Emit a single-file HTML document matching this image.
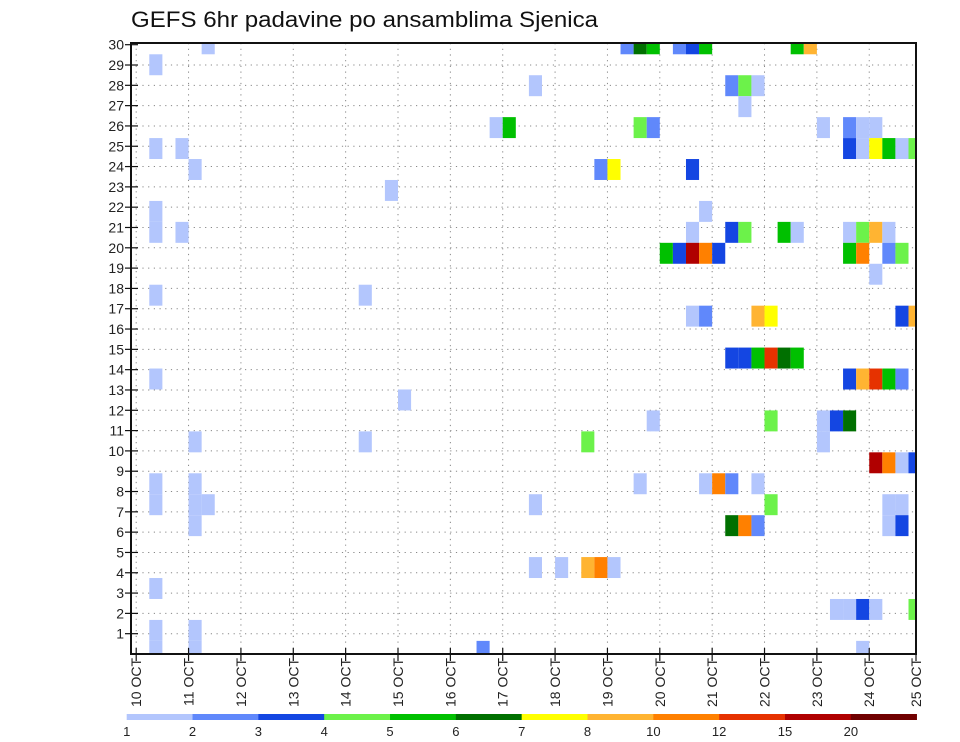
<!DOCTYPE html>
<html><head><meta charset="utf-8"><style>
html,body{margin:0;padding:0;background:#fff;}
svg{display:block;font-family:"Liberation Sans","DejaVu Sans",sans-serif;}
</style></head><body>
<svg id="chart" width="960" height="742" viewBox="0 0 960 742" xmlns="http://www.w3.org/2000/svg">
<text x="131" y="27" font-size="22" textLength="467" lengthAdjust="spacingAndGlyphs" fill="#111">GEFS 6hr padavine po ansamblima Sjenica</text>
<g id="grid"></g>
<g id="cells"></g>
<g id="axes"></g>
<g id="colorbar"></g>
</svg>
<script>
// data: 6-hour column index (from 10 OCT 00Z), ensemble member row, precip value (mm)
const cellCols = [5,37,38,39,41,42,43,50,51, 1, 30,45,46,47, 46, 27,28,38,39,52,54,55,56, 1,3,54,55,56,57,58,59, 4,35,36,42, 19, 1,43, 1,3,42,45,46,49,50,54,55,56,57, 40,41,42,43,44,54,55,57,58, 56, 1,17, 42,43,47,48,58,59, 45,46,47,48,49,50, 1,54,55,56,57,58, 20, 39,48,52,53,54, 4,17,34,52, 56,57,58,59, 1,4,38,43,44,45,47, 1,4,5,30,48,57,58, 4,45,46,47,57,58, 30,32,34,35,36, 1, 53,54,55,56,59, 1,4, 1,4,26,55];
const cellRows = [30,30,30,30,30,30,30,30,30, 29, 28,28,28,28, 27, 26,26,26,26,26,26,26,26, 25,25,25,25,25,25,25,25, 24,24,24,24, 23, 22,22, 21,21,21,21,21,21,21,21,21,21,21, 20,20,20,20,20,20,20,20,20, 19, 18,18, 17,17,17,17,17,17, 15,15,15,15,15,15, 14,14,14,14,14,14, 13, 12,12,12,12,12, 11,11,11,11, 10,10,10,10, 9,9,9,9,9,9,9, 8,8,8,8,8,8,8, 7,7,7,7,7,7, 5,5,5,5,5, 4, 3,3,3,3,3, 2,2, 1,1,1,1];
const cellVals = [1.5,2.5,6.5,5.5,2.5,3.5,5.5,5.5,9, 1.5, 1.5,2.5,4.5,1.5, 1.5, 1.5,5.5,4.5,2.5,1.5,2.5,1.5,1.5, 1.5,1.5,3.5,1.5,7.5,5.5,1.5,4.5, 1.5,2.5,7.5,3.5, 1.5, 1.5,1.5, 1.5,1.5,1.5,3.5,4.5,5.5,1.5,1.5,4.5,9,1.5, 5.5,3.5,17,11,3.5,5.5,11,2.5,4.5, 1.5, 1.5,1.5, 1.5,2.5,9,7.5,3.5,9, 3.5,3.5,5.5,13,6.5,5.5, 1.5,3.5,9,13,5.5,2.5, 1.5, 1.5,4.5,1.5,3.5,6.5, 1.5,1.5,4.5,1.5, 17,11,1.5,3.5, 1.5,1.5,1.5,1.5,11,2.5,1.5, 1.5,1.5,1.5,1.5,4.5,1.5,1.5, 1.5,6.5,11,2.5,1.5,3.5, 1.5,1.5,9,11,1.5, 1.5, 1.5,1.5,3.5,1.5,4.5, 1.5,1.5, 1.5,1.5,2.5,1.5];
const levels = [1,2,3,4,5,6,7,8,10,12,15,20];
const levelColors = ["#b3c6fd","#6088fb","#1446e2","#6cf24a","#00c000","#007000","#ffff00","#ffb432","#ff8000","#e63200","#b00000","#700000"];
const levelLabels = ["1","2","3","4","5","6","7","8","10","12","15","20"];
const dayLabels = ["10 OCT","11 OCT","12 OCT","13 OCT","14 OCT","15 OCT","16 OCT","17 OCT","18 OCT","19 OCT","20 OCT","21 OCT","22 OCT","23 OCT","24 OCT","25 OCT"];
const memberTicks = [1,2,3,4,5,6,7,8,9,10,11,12,13,14,15,16,17,18,19,20,21,22,23,24,25,26,27,28,29,30];

const NS = "http://www.w3.org/2000/svg";
const L = 131, R = 916, T = 43, B = 654;
const X0 = 136.2, DAY = 52.36, CW = DAY / 4;
const xDay = d => X0 + d * DAY;
const xCol = c => X0 + c * CW;
const yTick = r => 654 - r * 20.31;      // axis gridline for member r
const yCell = r => 672.3 - r * 20.95;     // cell center (cell grid)
const CH = 20.95;
function colorFor(v){ let i = 0; for (let j = 0; j < levels.length; j++) if (v >= levels[j]) i = j; return levelColors[i]; }
function mk(tag, attrs, parent){ const e = document.createElementNS(NS, tag); for (const k in attrs) e.setAttribute(k, attrs[k]); parent.appendChild(e); return e; }

const grid = document.getElementById("grid");
for (let d = 0; d < dayLabels.length - 1; d++) {
  const l = mk("line", {x1: xDay(d), x2: xDay(d), y1: T, y2: B, stroke: "#888", "stroke-width": 1, "stroke-dasharray": "1.2,4.5"}, grid);
  
  
}
memberTicks.forEach(r => {
  if (r >= 30) return;
  const l = mk("line", {x1: L, x2: R, y1: yTick(r), y2: yTick(r), stroke: "#888", "stroke-width": 1, "stroke-dasharray": "1.2,4.5"}, grid);
  
  
});

const cells = document.getElementById("cells");
mk("clipPath", {id: "plotclip"}, cells);
const cp = cells.querySelector("clipPath");
mk("rect", {x: L, y: T, width: R - L, height: B - T}, cp);
const cg = mk("g", {"clip-path": "url(#plotclip)"}, cells);
for (let i = 0; i < cellCols.length; i++) {
  const rc = mk("rect", {x: xCol(cellCols[i]), y: yCell(cellRows[i]) - CH / 2, width: CW, height: CH, fill: colorFor(cellVals[i])}, cg);
  
  
}

const axes = document.getElementById("axes");
const frame = mk("rect", {x: L, y: T, width: R - L, height: B - T, fill: "none", stroke: "#111", "stroke-width": 2}, axes);


memberTicks.forEach(r => {
  const y = yTick(r);
  const tk = mk("line", {x1: 125, x2: 138, y1: y, y2: y, stroke: "#111", "stroke-width": 1.2}, axes);
  
  
  const t = mk("text", {x: 124, y: y + 5, "font-size": 14, "text-anchor": "end", fill: "#222"}, axes);
  t.textContent = String(r);
  
  
});
dayLabels.forEach((lab, d) => {
  const x = Math.min(xDay(d), R);
  const tk = mk("line", {x1: x, x2: x, y1: B - 6, y2: B + 7, stroke: "#111", "stroke-width": 1.2}, axes);
  
  
  const t = mk("text", {transform: "translate(" + (x + 5) + ",658) rotate(-90)", "font-size": 14, "text-anchor": "end", fill: "#222"}, axes);
  t.textContent = lab;
  
  
});

const cb = document.getElementById("colorbar");
const CB0 = 126.7, CBW = 65.83;
levels.forEach((lv, i) => {
  const r = mk("rect", {x: CB0 + i * CBW, y: 714, width: CBW + 0.3, height: 6, fill: levelColors[i]}, cb);
  
  
  const t = mk("text", {x: CB0 + i * CBW, y: 736, "font-size": 13, "text-anchor": "middle", fill: "#222"}, cb);
  t.textContent = levelLabels[i];
  
  
});
</script>
</body></html>
